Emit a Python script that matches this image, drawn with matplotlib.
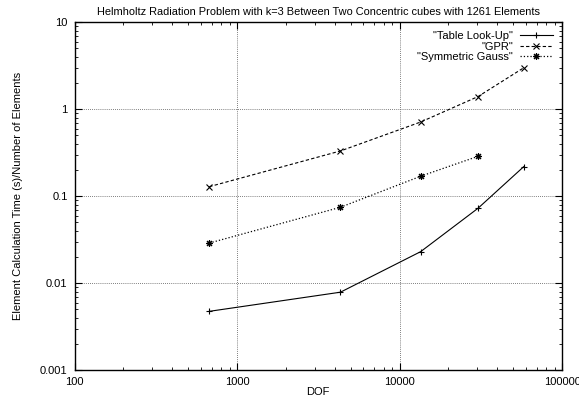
import numpy as np
from matplotlib import pyplot as plt
from matplotlib.ticker import LogLocator, FuncFormatter

plt.rcParams['font.family'] = ['Liberation Sans', 'DejaVu Sans']

# данные
dof = [675, 4330, 13490, 30400, 58100]
table_lookup = [0.00476, 0.0079, 0.0231, 0.0728, 0.219]
gpr = [0.129, 0.332, 0.714, 1.40, 3.0]
dof_gauss = [675, 4330, 13490, 30400]
sym_gauss = [0.029, 0.0748, 0.170, 0.288]

fig = plt.figure(figsize=(5.79, 4.01), dpi=100)
ax = fig.add_axes([0.1287, 0.0766, 0.8420, 0.8678])

ax.plot(dof, table_lookup, 'k-', lw=0.8, marker='+', ms=5, mew=0.8, label='"Table Look-Up"', zorder=3)
ax.plot(dof, gpr, 'k--', lw=0.8, marker='x', ms=4.5, mew=0.8, dashes=(3, 2), label='"GPR"', zorder=3)
ax.plot(dof_gauss, sym_gauss, 'k:', lw=0.9, marker=(8, 2, 0), ms=5, mew=0.8,
        label='"Symmetric Gauss"', zorder=3)

ax.set_xscale('log')
ax.set_yscale('log')
ax.set_xlim(100, 100000)
ax.set_ylim(0.001, 10)

fmt = FuncFormatter(lambda v, p: '%g' % v)
ax.xaxis.set_major_formatter(fmt)
ax.yaxis.set_major_formatter(fmt)
ax.xaxis.set_minor_locator(LogLocator(base=10, subs=np.arange(2, 10)))
ax.yaxis.set_minor_locator(LogLocator(base=10, subs=np.arange(2, 10)))
ax.xaxis.set_minor_formatter(plt.NullFormatter())
ax.yaxis.set_minor_formatter(plt.NullFormatter())

ax.tick_params(which='both', direction='in', top=True, right=True, labelsize=8)
ax.tick_params(which='major', length=5, width=0.8, pad=5)
ax.tick_params(which='minor', length=2.5, width=0.6)
for s in ax.spines.values():
    s.set_linewidth(1.0)

ax.grid(True, which='major', linestyle=(0, (1, 1.5)), color='#555555', lw=0.6)

ax.set_xlabel('DOF', fontsize=8, labelpad=0)
ax.set_ylabel('Element Calculation Time (s)/Number of Elements', fontsize=8, labelpad=12)
ax.set_title('Helmholtz Radiation Problem with k=3 Between Two Concentric cubes with 1261 Elements',
             fontsize=7.9, pad=5)

leg = ax.legend(loc='upper right', fontsize=8, markerfirst=False, frameon=True,
                framealpha=1, edgecolor='none', fancybox=False, handlelength=3.0,
                borderaxespad=0.5, labelspacing=0.05, handletextpad=0.6, borderpad=0.3)
for t in leg.get_texts():
    t.set_ha('right')
leg._legend_box.align = 'right'
leg.set_zorder(2)

plt.savefig('out.png', dpi=100)
